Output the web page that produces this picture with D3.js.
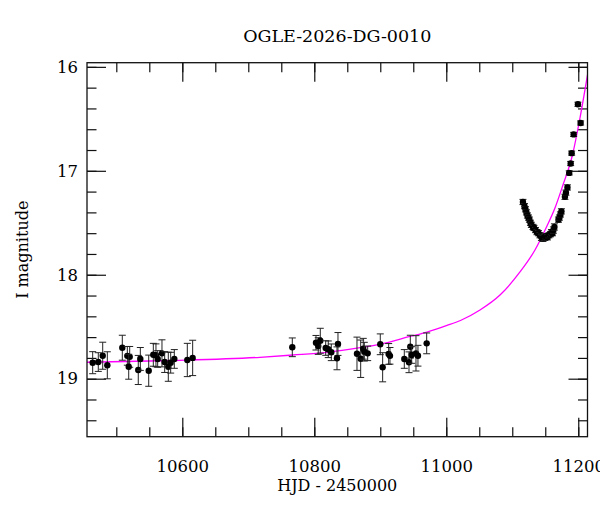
<!DOCTYPE html>
<html>
<head>
<meta charset="utf-8">
<script src="https://cdn.jsdelivr.net/npm/d3@7"></script>
<style>
    body { margin: 0; background: #fff; }
    text { font-family: 'DejaVu Serif', serif; fill: #000; }
</style>
</head>
<body>
<div id="chart"></div>
<script>
// baseline photometry (HJD - 2450000, I mag, error)
const baseTimes = [10464.2, 10472.7, 10479.4, 10486.4, 10509.1, 10516.7, 10520.3, 10518.8, 10533.3, 10536.4,
    10549.1, 10556.1, 10560.1, 10562.7, 10569.2, 10573.3, 10578.8, 10582.4, 10587.9, 10607.6, 10615.7,
    10766.7, 10802.6, 10806.0, 10809.1, 10817.3, 10821.2, 10825.8, 10835.9, 10834.4, 10864.7, 10870.3,
    10874.2, 10875.8, 10880.9, 10900.0, 10903.6, 10912.7, 10914.7, 10936.4, 10943.5, 10945.5, 10947.6,
    10954.1, 10957.1, 10970.3];
const baseMags = [18.846, 18.84, 18.779, 18.871, 18.702, 18.78, 18.79, 18.885, 18.916, 18.81,
    18.923, 18.77, 18.775, 18.81, 18.756, 18.84, 18.885, 18.846, 18.81, 18.82, 18.80,
    18.698, 18.654, 18.686, 18.635, 18.705, 18.717, 18.746, 18.666, 18.804, 18.76, 18.808,
    18.712, 18.74, 18.756, 18.669, 18.89, 18.762, 18.78, 18.81, 18.842, 18.692, 18.772,
    18.756, 18.779, 18.66];
const baseErrs = [0.106, 0.09, 0.13, 0.13, 0.12, 0.09, 0.10, 0.12, 0.14, 0.11,
    0.15, 0.11, 0.11, 0.08, 0.13, 0.10, 0.14, 0.10, 0.09, 0.16, 0.17,
    0.09, 0.07, 0.08, 0.12, 0.07, 0.08, 0.08, 0.11, 0.11, 0.16, 0.18,
    0.10, 0.09, 0.07, 0.10, 0.14, 0.10, 0.08, 0.09, 0.10, 0.11, 0.08,
    0.17, 0.10, 0.10];

// event photometry
const peakTimes = [11116.2, 11118.5, 11120.0, 11121.5, 11123.0, 11124.6, 11126.0, 11127.6, 11129.0, 11131.4,
    11132.9, 11135.2, 11137.4, 11139.7, 11141.9, 11144.2, 11146.5, 11148.8, 11151.0, 11153.3,
    11155.6, 11157.9, 11159.4, 11160.9, 11162.4, 11163.9, 11170.0, 11171.5, 11173.0, 11174.5,
    11179.8, 11181.3, 11183.6, 11186.3, 11188.5, 11190.0, 11193.0, 11199.5, 11203.6];
const peakMags = [17.30, 17.34, 17.37, 17.40, 17.43, 17.45, 17.47, 17.50, 17.52, 17.54,
    17.55, 17.57, 17.59, 17.60, 17.62, 17.64, 17.65, 17.64, 17.63, 17.64,
    17.62, 17.61, 17.59, 17.60, 17.57, 17.54, 17.47, 17.45, 17.42, 17.39,
    17.25, 17.21, 17.16, 17.02, 16.93, 16.83, 16.65, 16.36, 16.54];
const peakErrs = [0.025, 0.025, 0.025, 0.025, 0.025, 0.025, 0.025, 0.025, 0.025, 0.025,
    0.025, 0.025, 0.025, 0.025, 0.025, 0.03, 0.03, 0.03, 0.025, 0.025,
    0.025, 0.025, 0.025, 0.025, 0.03, 0.03, 0.025, 0.025, 0.025, 0.025,
    0.025, 0.025, 0.025, 0.02, 0.02, 0.02, 0.02, 0.02, 0.02];

// model light curve
const modelTimes = [10455.6, 10588.9, 10717.7, 10767.7, 10819.2, 10869.2, 10899.6, 10945.0, 10970.8, 11001.1,
    11021.5, 11051.1, 11081.4, 11111.7, 11134.4, 11152.6, 11164.7, 11176.8, 11191.2, 11202.6, 11214.0];
const modelMags = [18.842, 18.825, 18.794, 18.772, 18.746, 18.702, 18.669, 18.594, 18.551, 18.488,
    18.44, 18.339, 18.195, 17.973, 17.762, 17.531, 17.358, 17.137, 16.848, 16.492, 16.078];

const xTicks = [10600, 10800, 11000, 11200];
const xMinor = d3.range(10500, 11201, 50);
const yTicks = [16, 17, 18, 19];
const yMinor = d3.range(16, 19.5, 0.2);

const title = 'OGLE-2026-DG-0010';
const xLabel = 'HJD - 2450000';
const yLabel = 'I magnitude';

const W = 600, H = 512;
const margin = { top: 62.7, right: 12.5, bottom: 75.3, left: 87 };
const iw = W - margin.left - margin.right;
const ih = H - margin.top - margin.bottom;

const x = d3.scaleLinear().domain([10455.6, 11214]).range([0, iw]);
const y = d3.scaleLinear().domain([15.96, 19.558]).range([0, ih]);

const svg = d3.select('#chart').append('svg').attr('width', W).attr('height', H);
const g = svg.append('g').attr('transform', `translate(${margin.left},${margin.top})`);

svg.append('defs').append('clipPath').attr('id', 'plot')
    .append('rect').attr('width', iw).attr('height', ih);

// ticks, all pointing inward
const major = 19, minor = 9.5;
function styleAxis(sel) {
    sel.select('.domain').remove();
    sel.selectAll('.tick line').attr('stroke', '#111').attr('stroke-width', 1.2);
    sel.selectAll('.tick text').style('font-size', '16.5px').style('font-family', 'DejaVu Serif');
}
g.append('g').attr('transform', `translate(0,${ih})`)
    .call(d3.axisBottom(x).tickValues(xMinor).tickSize(-minor).tickFormat(''))
    .call(styleAxis);
g.append('g').attr('transform', `translate(0,${ih})`)
    .call(d3.axisBottom(x).tickValues(xTicks).tickSize(-major).tickPadding(24).tickFormat(d3.format('d')))
    .call(styleAxis);
g.append('g')
    .call(d3.axisTop(x).tickValues(xMinor).tickSize(-minor).tickFormat(''))
    .call(styleAxis);
g.append('g')
    .call(d3.axisTop(x).tickValues(xTicks).tickSize(-major).tickFormat(''))
    .call(styleAxis);
g.append('g')
    .call(d3.axisLeft(y).tickValues(yMinor).tickSize(-minor).tickFormat(''))
    .call(styleAxis);
g.append('g')
    .call(d3.axisLeft(y).tickValues(yTicks).tickSize(-major).tickPadding(9).tickFormat(d3.format('d')))
    .call(styleAxis);
g.append('g').attr('transform', `translate(${iw},0)`)
    .call(d3.axisRight(y).tickValues(yMinor).tickSize(-minor).tickFormat(''))
    .call(styleAxis);
g.append('g').attr('transform', `translate(${iw},0)`)
    .call(d3.axisRight(y).tickValues(yTicks).tickSize(-major).tickFormat(''))
    .call(styleAxis);

// model curve
const model = modelTimes.map((t, i) => ({ t, m: modelMags[i] }));
g.append('path')
    .datum(model)
    .attr('clip-path', 'url(#plot)')
    .attr('fill', 'none')
    .attr('stroke', '#ff00ff')
    .attr('stroke-width', 1.3)
    .attr('d', d3.line().x((d) => x(d.t)).y((d) => y(d.m)).curve(d3.curveMonotoneX));

// photometry with error bars
const points = baseTimes.map((t, i) => ({ t, m: baseMags[i], e: baseErrs[i] }))
    .concat(peakTimes.map((t, i) => ({ t, m: peakMags[i], e: peakErrs[i] })));
const cap = 3.5;
const pts = g.append('g').attr('clip-path', 'url(#plot)')
    .selectAll('g').data(points).join('g');
pts.append('line')
    .attr('x1', (d) => x(d.t)).attr('x2', (d) => x(d.t))
    .attr('y1', (d) => y(d.m - d.e)).attr('y2', (d) => y(d.m + d.e))
    .attr('stroke', '#222').attr('stroke-width', 1);
pts.append('line')
    .attr('x1', (d) => x(d.t) - cap).attr('x2', (d) => x(d.t) + cap)
    .attr('y1', (d) => y(d.m - d.e)).attr('y2', (d) => y(d.m - d.e))
    .attr('stroke', '#222').attr('stroke-width', 1);
pts.append('line')
    .attr('x1', (d) => x(d.t) - cap).attr('x2', (d) => x(d.t) + cap)
    .attr('y1', (d) => y(d.m + d.e)).attr('y2', (d) => y(d.m + d.e))
    .attr('stroke', '#222').attr('stroke-width', 1);
pts.append('circle')
    .attr('cx', (d) => x(d.t)).attr('cy', (d) => y(d.m))
    .attr('r', 3.2).attr('fill', '#000');

// frame
g.append('rect').attr('width', iw).attr('height', ih)
    .attr('fill', 'none').attr('stroke', '#111').attr('stroke-width', 1.3);

// labels
svg.append('text')
    .attr('x', margin.left + iw / 2).attr('y', 42)
    .attr('text-anchor', 'middle')
    .style('font-size', '17.5px')
    .text(title);
svg.append('text')
    .attr('x', margin.left + iw / 2).attr('y', 491)
    .attr('text-anchor', 'middle')
    .style('font-size', '16px')
    .text(xLabel);
svg.append('text')
    .attr('transform', `translate(28,${margin.top + ih / 2}) rotate(-90)`)
    .attr('text-anchor', 'middle')
    .style('font-size', '16px')
    .text(yLabel);
</script>
</body>
</html>
